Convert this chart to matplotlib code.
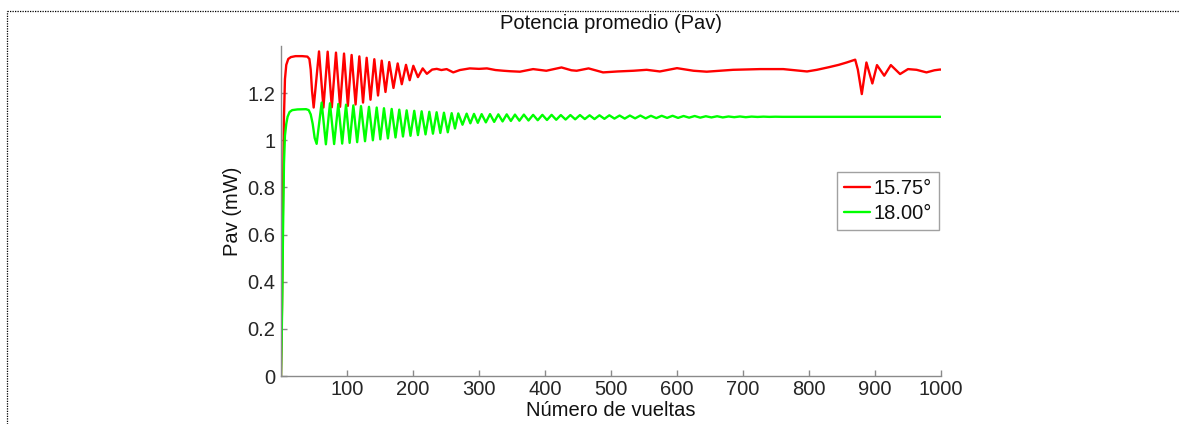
import matplotlib
matplotlib.use("Agg")
import matplotlib.pyplot as plt
from matplotlib.lines import Line2D

plt.rcParams["font.family"] = ["Liberation Sans", "DejaVu Sans"]

# Average power per round trip, angle 15.75 deg
red_x = [0, 1.5, 3, 4.5, 6, 8, 11, 15, 22, 32, 40, 43, 45, 47, 49.5,
         57.6, 64.3, 70.7, 77, 83.3, 89.5, 95.5, 101.3, 107, 113, 118.7, 124.3,
         129.8, 135.6, 141.4, 147, 152.6, 158.3, 164, 170.4, 176.8, 183, 189.4,
         195, 200.5, 207.5, 214.7, 221, 229, 236, 243, 251, 261, 271, 286, 300,
         312, 325, 337, 347, 362, 382, 402, 425, 440, 448, 466, 488, 510, 534,
         554, 574, 600, 625, 645, 685, 726, 761, 797, 812, 830, 845, 857, 870,
         874, 880, 887, 896, 903, 914, 924, 938, 950, 963, 978, 990, 998, 1000]
red_y = [0.0, 0.30, 0.75, 1.10, 1.26, 1.32, 1.345, 1.353, 1.357, 1.357, 1.355,
         1.345, 1.30, 1.21, 1.139,
         1.377, 1.139, 1.376, 1.140, 1.372, 1.142, 1.368, 1.146, 1.362, 1.152,
         1.356, 1.160, 1.350, 1.172, 1.344, 1.190, 1.338, 1.205, 1.332, 1.222,
         1.326, 1.238, 1.320, 1.255, 1.316, 1.268, 1.305, 1.282, 1.300, 1.303,
         1.298, 1.302, 1.288, 1.298, 1.305, 1.303, 1.305, 1.298, 1.295, 1.293,
         1.291, 1.302, 1.295, 1.309, 1.297, 1.295, 1.305, 1.288, 1.292, 1.295,
         1.299, 1.292, 1.306, 1.295, 1.291, 1.299, 1.302, 1.302, 1.292, 1.299,
         1.310, 1.320, 1.330, 1.342, 1.300, 1.196, 1.330, 1.241, 1.319, 1.274,
         1.319, 1.281, 1.302, 1.299, 1.288, 1.297, 1.300, 1.300]

# Average power per round trip, angle 18.00 deg
green_x = [0, 1, 2, 3, 4.5, 6, 8, 10, 13, 17, 25, 38, 42, 45, 48, 51, 54,
           61.6, 68.0, 74.2, 80.5, 86.8, 92.7, 98.5, 104.0, 109.6, 115.4, 121.2,
           127.3, 133.3, 139.2, 145.0, 150.5, 156.0, 162.0, 167.7, 173.5, 179.2,
           184.8, 190.4, 196.2, 201.9, 207.5, 213.1, 219.0, 224.7, 230.2, 235.8,
           241.4, 246.9, 252.7, 258.6, 263.6, 268.6, 275.0, 281.3, 286.9, 292.4,
           298.2, 304.0, 310.4, 316.7, 323.0, 329.3, 335.7, 342.0, 348.3, 354.5,
           361.2, 368.0, 375.0, 382.0, 389.0, 396.0, 403.0, 410.0, 417.0, 424.0,
           431.2, 438.5, 445.7, 453.0, 460.3, 467.6, 475.0, 482.5, 490.0, 497.5,
           505.2, 513.0, 520.8, 528.6, 536.5, 544.5, 552.5, 560.5, 568.6, 576.8,
           585.0, 593.3, 601.6, 610.0, 618.4, 626.8, 635.2, 643.7, 652.2, 660.8,
           669.4, 678.0, 686.7, 695.4, 704.2, 713.0, 722.0, 731.0, 740.0, 749.0,
           760, 1000]
green_y = [0.0, 0.15, 0.35, 0.60, 0.90, 1.02, 1.07, 1.10, 1.12, 1.128, 1.131,
           1.132, 1.128, 1.11, 1.07, 1.01, 0.985,
           1.160, 0.983, 1.157, 0.984, 1.154, 0.986, 1.151, 0.989, 1.148, 0.992,
           1.145, 0.996, 1.142, 1.000, 1.139, 1.004, 1.136, 1.008, 1.133, 1.012,
           1.130, 1.016, 1.127, 1.019, 1.125, 1.022, 1.123, 1.025, 1.121, 1.028,
           1.119, 1.031, 1.117, 1.034, 1.115, 1.050, 1.114, 1.066, 1.113,
           1.072, 1.112, 1.074, 1.111, 1.076, 1.111, 1.078, 1.110, 1.080, 1.110,
           1.082, 1.109, 1.083, 1.109, 1.084, 1.108, 1.085, 1.108, 1.086, 1.108,
           1.087, 1.107, 1.088, 1.107, 1.089, 1.107, 1.090, 1.106, 1.090, 1.106,
           1.091, 1.106, 1.092, 1.105, 1.092, 1.105, 1.093, 1.105, 1.093, 1.104,
           1.094, 1.104, 1.095, 1.104, 1.095, 1.103, 1.096, 1.103, 1.096, 1.102,
           1.097, 1.102, 1.097, 1.101, 1.098, 1.101, 1.098, 1.1005, 1.099,
           1.1003, 1.0993, 1.100, 1.0995, 1.0995]

series_labels = ["15.75°", "18.00°"]
x_ticks = [100, 200, 300, 400, 500, 600, 700, 800, 900, 1000]
y_ticks = [0, 0.2, 0.4, 0.6, 0.8, 1.0, 1.2]
y_tick_labels = ["0", "0.2", "0.4", "0.6", "0.8", "1", "1.2"]

W, H = 1179, 424
fig = plt.figure(figsize=(W / 100, H / 100), dpi=100)
ax = fig.add_axes([281 / W, 1 - 376 / H, 660 / W, 330 / H])

line_kw = dict(lw=1.7, solid_joinstyle="round", solid_capstyle="round")
ax.plot(red_x, red_y, color="#ff0000", label=series_labels[0], **line_kw)
ax.plot(green_x, green_y, color="#00ff00", label=series_labels[1], **line_kw)

ax.set_xlim(0, 1000)
ax.set_ylim(0, 1.4)
ax.set_xticks(x_ticks)
ax.set_yticks(y_ticks)
ax.set_yticklabels(y_tick_labels)

fs = 14.5
axis_grey = "#8a8a8a"
for side in ("top", "right"):
    ax.spines[side].set_visible(False)
for side in ("left", "bottom"):
    ax.spines[side].set_color(axis_grey)
    ax.spines[side].set_linewidth(1.0)
ax.tick_params(direction="in", length=4, width=1.0, color=axis_grey,
               labelcolor="#262626", labelsize=fs)
ax.tick_params(axis="x", pad=3)
ax.tick_params(axis="y", pad=4)

ax.set_title("Potencia promedio (Pav)", fontsize=fs, color="#111111", pad=12)
ax.set_xlabel("Número de vueltas", fontsize=fs, color="#111111", labelpad=1)
ax.set_ylabel("Pav (mW)", fontsize=fs, color="#111111", labelpad=4)

leg = ax.legend(loc="upper left", bbox_to_anchor=(837 / W, 1 - 172 / H),
                bbox_transform=fig.transFigure, fontsize=fs, frameon=True,
                fancybox=False, handlelength=1.3, handletextpad=0.15,
                borderpad=0.35, labelspacing=0.3, borderaxespad=0)
leg.get_frame().set_edgecolor(axis_grey)
leg.get_frame().set_linewidth(1.0)
for t in leg.get_texts():
    t.set_color("#111111")

# dotted frame around the figure (left and top edges)
fig.add_artist(Line2D([7.5 / W, 7.5 / W], [0, 1 - 10.5 / H],
                      transform=fig.transFigure, color="black", lw=0.9,
                      linestyle=(0, (1, 1))))
fig.add_artist(Line2D([7.5 / W, 1], [1 - 10.5 / H, 1 - 10.5 / H],
                      transform=fig.transFigure, color="black", lw=0.9,
                      linestyle=(0, (1, 1))))

fig.savefig("out.png", dpi=100)
